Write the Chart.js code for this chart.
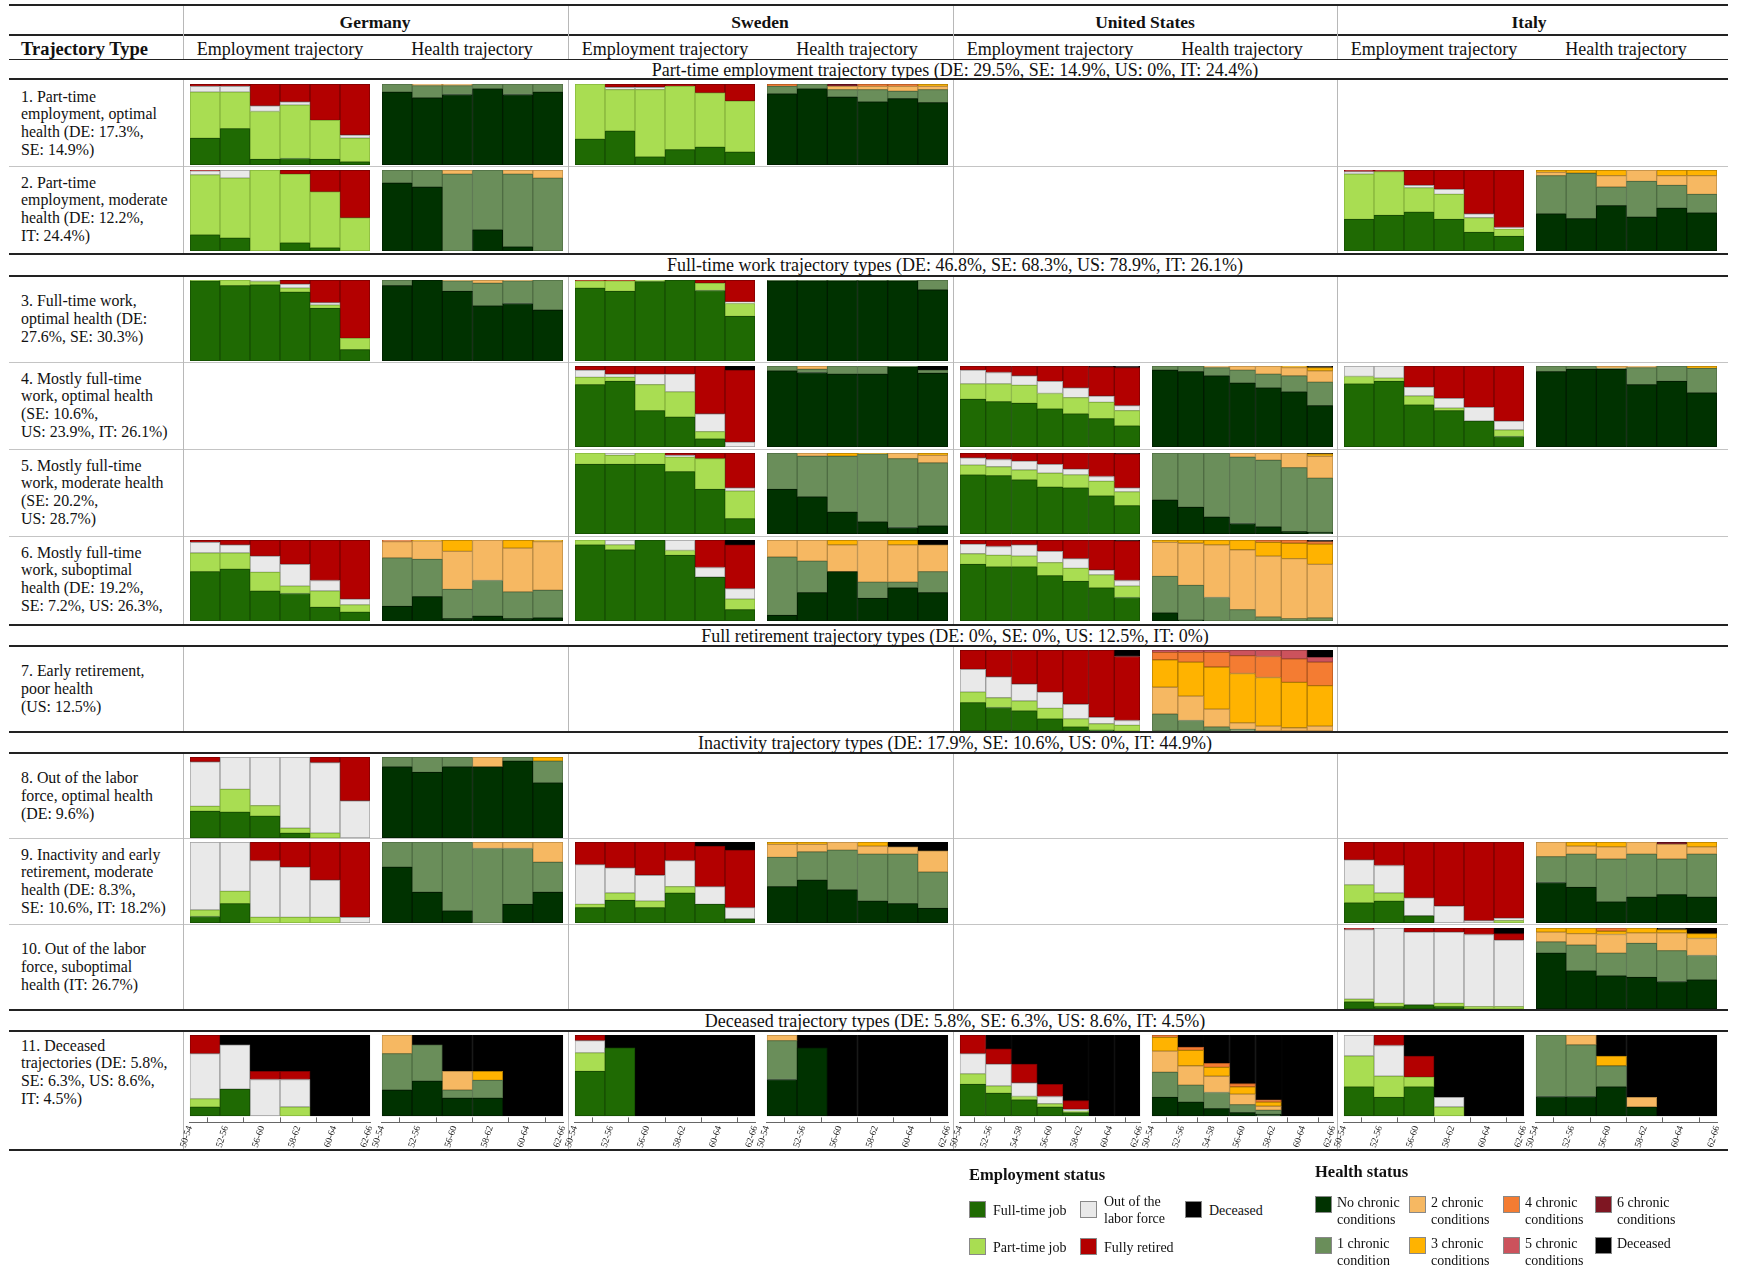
<!DOCTYPE html>
<html>
<head>
<meta charset="utf-8">
<script src="https://cdn.jsdelivr.net/npm/chart.js@4.4.1/dist/chart.umd.min.js"></script>
<style>
  body { margin: 0; background: #fff; }
  #page { position: relative; width: 1737px; height: 1272px; overflow: hidden;
          font-family: "Liberation Serif", "Times New Roman", serif; color: #111; }
  .hl { position: absolute; left: 9px; width: 1719px; background: #222; }
  .vl { position: absolute; width: 1px; background: #b8b8b8; }
  .t { position: absolute; white-space: nowrap; }
  .c { transform: translate(-50%, -50%); }
  .lab { position: absolute; left: 21px; width: 162px; display: flex; align-items: center;
         font-size: 15.9px; line-height: 17.7px; white-space: nowrap; }
  .sw { position: absolute; width: 17px; height: 17px; border: 1px solid #888; box-sizing: border-box; }
  .lg { position: absolute; font-size: 14px; line-height: 17px; white-space: nowrap; }
  canvas { position: absolute; }
</style>
</head>
<body>
<div id="page"></div>
<script>
// age groups on the x axis
const ages6 = ['50-54', '52-56', '56-60', '58-62', '60-64', '62-66'];
const ages7 = ['50-54', '52-56', '54-58', '56-60', '58-62', '60-64', '62-66'];

const empStatus = ['Full-time job', 'Part-time job', 'Out of the labor force', 'Fully retired', 'Deceased'];
const healthStatus = ['No chronic conditions', '1 chronic condition', '2 chronic conditions', '3 chronic conditions',
  '4 chronic conditions', '5 chronic conditions', '6 chronic conditions', 'Deceased'];

// shares (%) per age group, employment: [full-time, part-time, out of labor force, retired, deceased]
// health: [0, 1, 2, 3, 4, 5, 6 chronic conditions, deceased]
const de1Emp = [[33, 57, 7, 3, 0], [45, 45, 7, 3, 0], [7, 59, 7, 27, 0], [8, 66, 4, 22, 0], [7, 48, 0, 45, 0], [4, 29, 4, 63, 0]];
const de1Hlt = [[90, 10], [83, 15, 2], [87, 11, 2], [94, 6], [87, 13], [90, 10]];
const se1Emp = [[32, 68, 0, 0, 0], [42, 51, 3, 4, 0], [10, 83, 3, 4, 0], [19, 78, 0, 3, 0], [22, 67, 0, 11, 0], [16, 63, 0, 21, 0]];
const se1Hlt = [[88, 9, 0, 0, 3], [94, 6], [84, 9, 4, 0, 0, 0, 3], [78, 15, 4, 0, 3], [82, 9, 6, 0, 3], [77, 16, 4, 3]];

const de2Emp = [[20, 74, 5, 1, 0], [16, 74, 10, 0, 0], [0, 100, 0, 0, 0], [10, 85, 0, 5, 0], [4, 69, 0, 27, 0], [0, 41, 0, 59, 0]];
const de2Hlt = [[84, 16], [79, 21], [0, 95, 5], [26, 74], [5, 90, 5], [0, 90, 10]];
const it2Emp = [[39, 56, 3, 2, 0], [44, 54, 0, 2, 0], [48, 30, 3, 19, 0], [39, 31, 6, 24, 0], [23, 18, 5, 54, 0], [18, 9, 2, 71, 0]];
const it2Hlt = [[46, 47, 4, 3], [40, 56, 0, 4], [56, 23, 14, 7], [42, 44, 14, 0], [53, 28, 12, 7], [47, 23, 23, 7]];

const de3Emp = [[99, 1, 0, 0, 0], [93, 7, 0, 0, 0], [94, 4, 2, 0, 0], [85, 5, 5, 5, 0], [65, 4, 3, 28, 0], [14, 14, 0, 72, 0]];
const de3Hlt = [[93, 7], [100, 0], [86, 13, 1], [68, 28, 4], [71, 28, 1], [63, 37]];
const se3Emp = [[90, 9, 0, 1, 0], [86, 13, 0, 1, 0], [98, 2, 0, 0, 0], [100, 0, 0, 0, 0], [87, 9, 0, 4, 0], [55, 16, 2, 27, 0]];
const se3Hlt = [[99, 1], [99, 1], [99, 1], [99, 1], [99, 1], [88, 12]];

const se4Emp = [[77, 9, 9, 5, 0], [81, 5, 4, 10, 0], [45, 32, 13, 10, 0], [37, 31, 22, 10, 0], [10, 9, 22, 59, 0], [0, 0, 6, 89, 5]];
const se4Hlt = [[94, 6], [92, 4, 4], [90, 10], [90, 10], [99, 1], [91, 4, 0, 0, 0, 0, 0, 5]];
const us4Emp = [[59, 19, 17, 5, 0], [56, 22, 14, 8, 0], [54, 22, 12, 12, 0], [47, 19, 15, 19, 0], [41, 20, 12, 27, 0], [35, 20, 8, 36, 1], [26, 19, 6, 47, 2]];
const us4Hlt = [[95, 5], [93, 7], [88, 10, 2], [79, 16, 5], [73, 17, 10], [68, 20, 10, 2], [51, 29, 14, 4, 0, 0, 0, 2]];
const it4Emp = [[78, 9, 13, 0, 0], [81, 4, 15, 0, 0], [52, 11, 11, 26, 0], [45, 3, 12, 40, 0], [32, 0, 17, 51, 0], [13, 8, 11, 68, 0]];
const it4Hlt = [[93, 7], [96, 4], [96, 1, 3], [77, 21, 2], [81, 19], [67, 30, 0, 3]];

const se5Emp = [[86, 14, 0, 0, 0], [86, 11, 3, 0, 0], [86, 14, 0, 0, 0], [77, 18, 2, 3, 0], [55, 38, 0, 7, 0], [19, 34, 4, 43, 0]];
const se5Hlt = [[55, 45], [46, 50, 4], [27, 69, 0, 4], [15, 84, 0, 1], [8, 85, 7], [10, 78, 9, 3]];
const us5Emp = [[73, 12, 9, 6, 0], [72, 11, 9, 8, 0], [67, 12, 11, 10, 0], [58, 17, 11, 14, 0], [57, 16, 7, 20, 0], [47, 18, 6, 29, 0], [35, 17, 5, 42, 1]];
const us5Hlt = [[42, 58], [33, 67], [21, 79], [13, 82, 5], [9, 82, 9], [3, 79, 18], [2, 67, 27, 3, 0, 0, 0, 1]];

const de6Emp = [[61, 23, 13, 3, 0], [64, 20, 10, 6, 0], [37, 23, 20, 20, 0], [34, 9, 27, 30, 0], [17, 20, 13, 50, 0], [11, 9, 7, 73, 0]];
const de6Hlt = [[18, 60, 20, 0, 2], [30, 46, 23, 1], [3, 36, 47, 14], [6, 44, 50], [3, 33, 54, 10], [4, 34, 60, 2]];
const se6Emp = [[94, 6, 0, 0, 0], [88, 6, 6, 0, 0], [100, 0, 0, 0, 0], [81, 6, 13, 0, 0], [54, 0, 12, 34, 0], [14, 13, 13, 54, 6]];
const se6Hlt = [[7, 72, 21], [35, 39, 26], [61, 0, 33, 6], [28, 20, 52], [41, 7, 46, 6], [35, 26, 33, 0, 0, 0, 0, 6]];
const us6Emp = [[70, 13, 12, 5, 0], [67, 14, 11, 8, 0], [67, 13, 14, 6, 0], [56, 16, 14, 14, 0], [49, 16, 12, 23, 0], [41, 16, 6, 37, 0], [29, 14, 7, 49, 1]];
const us6Hlt = [[10, 45, 42, 3], [1, 43, 52, 4], [0, 29, 65, 6], [0, 14, 74, 12], [0, 5, 75, 17, 3], [0, 3, 74, 19, 4], [0, 4, 66, 25, 3, 0, 0, 2]];

const us7Emp = [[35, 13, 28, 24, 0], [29, 12, 26, 33, 0], [25, 12, 21, 42, 0], [15, 13, 20, 52, 0], [5, 10, 18, 67, 0], [1, 8, 8, 83, 0], [0, 7, 6, 79, 8]];
const us7Hlt = [[0, 21, 33, 34, 9, 3], [0, 13, 30, 42, 12, 3], [0, 5, 22, 52, 18, 3], [0, 2, 8, 61, 22, 7], [0, 0, 6, 60, 26, 8], [0, 0, 4, 56, 29, 11], [0, 0, 6, 50, 29, 6, 0, 9]];

const de8Emp = [[33, 6, 55, 6, 0], [32, 28, 40, 0, 0], [27, 13, 60, 0, 0], [6, 6, 88, 0, 0], [0, 6, 87, 7, 0], [0, 0, 46, 54, 0]];
const de8Hlt = [[88, 12], [81, 19], [88, 12], [88, 0, 12], [95, 5], [68, 27, 0, 5]];

const de9Emp = [[8, 8, 84, 0, 0], [24, 15, 61, 0, 0], [0, 7, 70, 23, 0], [0, 7, 62, 31, 0], [0, 7, 46, 47, 0], [0, 0, 7, 93, 0]];
const de9Hlt = [[69, 31], [38, 62], [15, 85], [0, 92, 8], [23, 69, 8], [38, 37, 25]];
const se9Emp = [[19, 4, 49, 28, 0], [28, 9, 31, 32, 0], [19, 8, 32, 41, 0], [37, 8, 32, 23, 0], [23, 0, 22, 50, 5], [5, 0, 14, 71, 10]];
const se9Hlt = [[45, 36, 16, 3], [53, 35, 9, 3], [41, 49, 10], [27, 58, 10, 5], [24, 61, 9, 0, 0, 0, 0, 6], [18, 45, 26, 0, 0, 0, 0, 11]];
const it9Emp = [[25, 22, 31, 22, 0], [27, 10, 34, 29, 0], [9, 0, 22, 69, 0], [0, 0, 21, 79, 0], [0, 0, 3, 97, 0], [0, 3, 3, 94, 0]];
const it9Hlt = [[50, 32, 18], [44, 41, 10, 5], [26, 53, 15, 6], [32, 53, 15], [35, 44, 18, 0, 0, 0, 3], [32, 53, 9, 6]];

const it10Emp = [[9, 3, 86, 2, 0], [3, 4, 93, 0, 0], [5, 0, 90, 5, 0], [3, 4, 88, 5, 0], [0, 3, 89, 8, 0], [0, 3, 82, 8, 7]];
const it10Hlt = [[69, 14, 12, 5], [47, 32, 14, 7], [41, 28, 23, 4, 4], [39, 42, 13, 6], [34, 38, 22, 4, 0, 0, 0, 2], [36, 30, 21, 6, 0, 0, 0, 7]];

const de11Emp = [[11, 10, 56, 23, 0], [33, 0, 55, 0, 12], [0, 0, 45, 10, 45], [0, 11, 34, 10, 45], [0, 0, 0, 0, 100], [0, 0, 0, 0, 100]];
const de11Hlt = [[32, 45, 23], [43, 45, 0, 0, 0, 0, 0, 12], [22, 10, 23, 0, 0, 0, 0, 45], [22, 22, 0, 11, 0, 0, 0, 45], [0, 0, 0, 0, 0, 0, 0, 100], [0, 0, 0, 0, 0, 0, 0, 100]];
const se11Emp = [[55, 23, 15, 7, 0], [84, 0, 0, 0, 16], [0, 0, 0, 0, 100], [0, 0, 0, 0, 100], [0, 0, 0, 0, 100], [0, 0, 0, 0, 100]];
const se11Hlt = [[45, 48, 7], [84, 0, 0, 0, 0, 0, 0, 16], [0, 0, 0, 0, 0, 0, 0, 100], [0, 0, 0, 0, 0, 0, 0, 100], [0, 0, 0, 0, 0, 0, 0, 100], [0, 0, 0, 0, 0, 0, 0, 100]];
const us11Emp = [[39, 13, 25, 23, 0], [28, 9, 27, 19, 17], [20, 4, 17, 23, 36], [11, 4, 9, 15, 61], [4, 2, 2, 11, 81], [0, 0, 0, 0, 100], [0, 0, 0, 0, 100]];
const us11Hlt = [[23, 31, 26, 17, 3], [17, 21, 24, 19, 4, 0, 0, 15], [9, 20, 20, 11, 5, 0, 0, 35], [4, 10, 13, 9, 4, 0, 0, 60], [2, 5, 5, 5, 3, 0, 0, 80], [0, 0, 0, 0, 0, 0, 0, 100], [0, 0, 0, 0, 0, 0, 0, 100]];
const it11Emp = [[36, 38, 26, 0, 0], [23, 26, 38, 13, 0], [36, 12, 0, 26, 26], [0, 11, 12, 0, 77], [0, 0, 0, 0, 100], [0, 0, 0, 0, 100]];
const it11Hlt = [[24, 76], [24, 64, 12], [36, 26, 0, 12, 0, 0, 0, 26], [11, 0, 12, 0, 0, 0, 0, 77], [0, 0, 0, 0, 0, 0, 0, 100], [0, 0, 0, 0, 0, 0, 0, 100]];

const countries = ['Germany', 'Sweden', 'United States', 'Italy'];
const sections = [
  'Part-time employment trajectory types (DE: 29.5%, SE: 14.9%, US: 0%, IT: 24.4%)',
  'Full-time work trajectory types (DE: 46.8%, SE: 68.3%, US: 78.9%, IT: 26.1%)',
  'Full retirement trajectory types (DE: 0%, SE: 0%, US: 12.5%, IT: 0%)',
  'Inactivity trajectory types (DE: 17.9%, SE: 10.6%, US: 0%, IT: 44.9%)',
  'Deceased trajectory types (DE: 5.8%, SE: 6.3%, US: 8.6%, IT: 4.5%)'
];
const rowLabels = [
  '1. Part-time<br>employment, optimal<br>health (DE: 17.3%,<br>SE: 14.9%)',
  '2. Part-time<br>employment, moderate<br>health (DE: 12.2%,<br>IT: 24.4%)',
  '3. Full-time work,<br>optimal health (DE:<br>27.6%, SE: 30.3%)',
  '4. Mostly full-time<br>work, optimal health<br>(SE: 10.6%,<br>US: 23.9%, IT: 26.1%)',
  '5. Mostly full-time<br>work, moderate health<br>(SE: 20.2%,<br>US: 28.7%)',
  '6. Mostly full-time<br>work, suboptimal<br>health (DE: 19.2%,<br>SE: 7.2%, US: 26.3%,',
  '7. Early retirement,<br>poor health<br>(US: 12.5%)',
  '8. Out of the labor<br>force, optimal health<br>(DE: 9.6%)',
  '9. Inactivity and early<br>retirement, moderate<br>health (DE: 8.3%,<br>SE: 10.6%, IT: 18.2%)',
  '10. Out of the labor<br>force, suboptimal<br>health (IT: 26.7%)',
  '11. Deceased<br>trajectories (DE: 5.8%,<br>SE: 6.3%, US: 8.6%,<br>IT: 4.5%)'
];

// [row, country, employment data, health data]
const cells = [
  [0, 0, de1Emp, de1Hlt], [0, 1, se1Emp, se1Hlt],
  [1, 0, de2Emp, de2Hlt], [1, 3, it2Emp, it2Hlt],
  [2, 0, de3Emp, de3Hlt], [2, 1, se3Emp, se3Hlt],
  [3, 1, se4Emp, se4Hlt], [3, 2, us4Emp, us4Hlt], [3, 3, it4Emp, it4Hlt],
  [4, 1, se5Emp, se5Hlt], [4, 2, us5Emp, us5Hlt],
  [5, 0, de6Emp, de6Hlt], [5, 1, se6Emp, se6Hlt], [5, 2, us6Emp, us6Hlt],
  [6, 2, us7Emp, us7Hlt],
  [7, 0, de8Emp, de8Hlt],
  [8, 0, de9Emp, de9Hlt], [8, 1, se9Emp, se9Hlt], [8, 3, it9Emp, it9Hlt],
  [9, 3, it10Emp, it10Hlt],
  [10, 0, de11Emp, de11Hlt], [10, 1, se11Emp, se11Hlt], [10, 2, us11Emp, us11Hlt], [10, 3, it11Emp, it11Hlt]
];

const empColors = ['#1f6a03', '#a9dd52', '#e9e9e9', '#b30000', '#000000'];
const empBorders = ['#164d03', '#86b43c', '#9c9c9c', '#7a0000', '#000000'];
const healthColors = ['#003200', '#6a8e5a', '#f6b862', '#ffb300', '#f47c32', '#cc525c', '#7e1622', '#000000'];
const healthBorders = ['#001c00', '#4f6c43', '#b98a45', '#b07c00', '#b0561f', '#913a41', '#520c15', '#000000'];

const page = document.getElementById('page');
const font = '"Liberation Serif", "Times New Roman", serif';
const rowTops = [80, 166, 276, 362, 449, 536, 646, 753, 838, 924, 1031];
const colX = [183, 568, 953, 1337];

function el(cls, css, html) {
  const d = document.createElement('div');
  d.className = cls;
  d.style.cssText = css;
  if (html) d.innerHTML = html;
  page.appendChild(d);
  return d;
}

// table rules
[[5, 2], [35, 1.5], [59, 1], [79, 2], [254, 2], [276, 2], [625, 2], [646, 2], [732, 2], [753, 2], [1010, 2], [1031, 2], [1150, 2]]
  .forEach(([y, w]) => el('hl', `top:${y - w / 2}px;height:${w}px`));
[166, 362, 449, 536, 838, 924].forEach(y => el('hl', `top:${y}px;height:1px;background:#c4c4c4`));
[[6, 59], [80, 253], [277, 624], [647, 731], [754, 1009], [1032, 1149]].forEach(([a, b]) => {
  colX.forEach(x => el('vl', `left:${x}px;top:${a}px;height:${b - a}px`));
});

// headers
el('t', 'left:21px;top:49px;font-weight:bold;font-size:18.5px;transform:translateY(-50%)', 'Trajectory Type');
countries.forEach((name, i) => {
  el('t c', `left:${colX[i] + 192}px;top:22px;font-weight:bold;font-size:17.5px`, name);
  el('t c', `left:${colX[i] + 97}px;top:49px;font-size:18px`, 'Employment trajectory');
  el('t c', `left:${colX[i] + 289}px;top:49px;font-size:18px`, 'Health trajectory');
});
[70, 265, 636, 743, 1021].forEach((y, i) => el('t c', `left:955px;top:${y}px;font-size:18px`, sections[i]));
rowLabels.forEach((txt, i) => el('lab', `top:${rowTops[i]}px;height:${i === 10 ? 82 : 86}px`, '<div>' + txt + '</div>'));

function makeConfig(rows, kind, ages, withAxis) {
  const names = kind === 'emp' ? empStatus : healthStatus;
  const colors = kind === 'emp' ? empColors : healthColors;
  const borders = kind === 'emp' ? empBorders : healthBorders;
  const datasets = names.map((name, k) => ({
    label: name,
    data: rows.map(r => r[k] || 0),
    backgroundColor: colors[k],
    borderColor: borders[k],
    borderWidth: 1,
    borderSkipped: false,
    barPercentage: 1,
    categoryPercentage: 1
  }));
  const scales = {
    x: { stacked: true, display: false },
    y: { stacked: true, display: false, min: withAxis ? -8 : 0, max: 100 }
  };
  if (withAxis) {
    scales.ax = {
      type: 'category',
      labels: ages,
      position: 'bottom',
      offset: false,
      grid: { drawOnChartArea: false, tickLength: -5, color: '#666', lineWidth: 1 },
      border: { color: '#666', width: 1 },
      ticks: { autoSkip: false, minRotation: 72, maxRotation: 72, padding: 7, color: '#222',
               font: { family: font, size: 9.5 } }
    };
  }
  return {
    type: 'bar',
    data: { labels: ages, datasets: datasets },
    options: {
      responsive: false,
      maintainAspectRatio: false,
      animation: false,
      events: [],
      layout: { padding: 0 },
      plugins: { legend: { display: false }, tooltip: { enabled: false } },
      scales: scales
    }
  };
}

function drawCell(x, y, w, h, rows, kind, ages, withAxis) {
  const canvas = document.createElement('canvas');
  canvas.width = w;
  canvas.height = h;
  canvas.style.left = x + 'px';
  canvas.style.top = y + 'px';
  page.appendChild(canvas);
  const chart = new Chart(canvas, makeConfig(rows, kind, ages, withAxis));
  if (withAxis) {
    // grow the canvas so the plot area keeps the cell size next to the rotated labels
    const ca = chart.chartArea;
    const padL = ca.left, padR = w - ca.right, axisH = h - ca.bottom, padT = ca.top;
    chart.destroy();
    const plotH = 81 * 108 / 100;
    canvas.width = Math.round(w + padL + padR);
    canvas.height = Math.round(padT + plotH + axisH);
    canvas.style.width = canvas.width + 'px';
    canvas.style.height = canvas.height + 'px';
    canvas.style.left = (x - padL) + 'px';
    canvas.style.top = (y - padT) + 'px';
    new Chart(canvas, makeConfig(rows, kind, ages, withAxis));
  }
}

cells.forEach(([r, c, emp, hlt]) => {
  const ages = c === 2 ? ages7 : ages6;
  const last = r === 10;
  const top = rowTops[r] + 4;
  const h = last ? 116 : 81;
  drawCell(colX[c] + 7, top, 180, h, emp, 'emp', ages, last);
  drawCell(colX[c] + 199, top, 181, h, hlt, 'hlt', ages, last);
});

// legend
el('t', 'left:969px;top:1165px;font-weight:bold;font-size:16.5px', 'Employment status');
el('t', 'left:1315px;top:1162px;font-weight:bold;font-size:16.5px', 'Health status');
const empLegend = [[0, 969, 1201, 'Full-time job'], [2, 1080, 1201, 'Out of the<br>labor force'], [4, 1185, 1201, 'Deceased'],
  [1, 969, 1238, 'Part-time job'], [3, 1080, 1238, 'Fully retired']];
empLegend.forEach(([k, x, y, txt]) => {
  el('sw', `left:${x}px;top:${y}px;background:${empColors[k]}`);
  el('lg', `left:${x + 24}px;top:${y + 8.5}px;transform:translateY(-50%)`, txt);
});
const hltLegend = [[0, 1315, 1196, 'No chronic<br>conditions'], [2, 1409, 1196, '2 chronic<br>conditions'],
  [4, 1503, 1196, '4 chronic<br>conditions'], [6, 1595, 1196, '6 chronic<br>conditions'],
  [1, 1315, 1237, '1 chronic<br>condition'], [3, 1409, 1237, '3 chronic<br>conditions'],
  [5, 1503, 1237, '5 chronic<br>conditions'], [7, 1595, 1237, 'Deceased']];
hltLegend.forEach(([k, x, y, txt]) => {
  el('sw', `left:${x}px;top:${y}px;background:${healthColors[k]}`);
  el('lg', `left:${x + 22}px;top:${y - 2}px`, txt);
});
</script>
</body>
</html>
